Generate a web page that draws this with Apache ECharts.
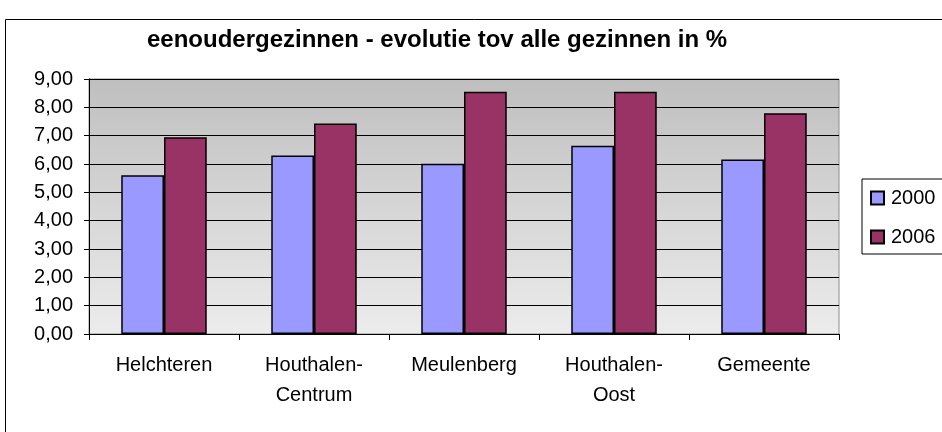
<!DOCTYPE html>
<html>
<head>
<meta charset="utf-8">
<script src="https://cdn.jsdelivr.net/npm/echarts@6/dist/echarts.min.js"></script>
<style>
	html, body { margin: 0; padding: 0; background: #fff; }
	#chart { width: 942px; height: 432px; }
</style>
</head>
<body>
<div id="chart"></div>
<script>
// categorieen en waarden
var categories = ['Helchteren', 'Houthalen-\nCentrum', 'Meulenberg', 'Houthalen-\nOost', 'Gemeente'];
var values2000 = [5.60, 6.30, 6.01, 6.64, 6.16];
var values2006 = [6.94, 7.43, 8.55, 8.55, 7.79];
var seriesNames = ['2000', '2006'];

var fontFamily = '"Liberation Sans", Arial, sans-serif';

var chart = echarts.init(document.getElementById('chart'));

var option = {
	backgroundColor: '#FFFFFF',
	animation: false,
	title: {
		text: 'eenoudergezinnen - evolutie tov alle gezinnen in %',
		left: 147,
		top: 28,
		padding: 0,
		textStyle: { fontFamily: fontFamily, fontSize: 24, fontWeight: 'bold', color: '#000' }
	},
	graphic: [
		{
			type: 'rect',
			shape: { x: 5.5, y: 19.5, width: 940, height: 430 },
			style: { fill: null, stroke: '#000', lineWidth: 1 },
			silent: true
		}
	],
	legend: {
		orient: 'vertical',
		left: 862,
		top: 179,
		padding: [9, 30, 7, 8],
		itemGap: 19,
		itemWidth: 13,
		itemHeight: 13,
		icon: 'rect',
		borderColor: '#000',
		borderWidth: 1,
		backgroundColor: '#fff',
		textStyle: { fontFamily: fontFamily, fontSize: 20, color: '#000', padding: [0, 0, 0, 2] },
		data: seriesNames
	},
	grid: {
		left: 89,
		right: 103,
		top: 79,
		bottom: 98,
		show: true,
		borderColor: '#8c8c8c',
		borderWidth: 1,
		backgroundColor: new echarts.graphic.LinearGradient(0, 0, 0, 1, [
			{ offset: 0, color: '#bfbfbf' },
			{ offset: 1, color: '#ececec' }
		])
	},
	xAxis: {
		type: 'category',
		data: categories,
		axisLine: { show: true, lineStyle: { color: '#000', width: 1 } },
		axisTick: { show: true, length: 6, lineStyle: { color: '#000' } },
		axisLabel: {
			fontFamily: fontFamily, fontSize: 20, color: '#000',
			lineHeight: 30, margin: 16, interval: 0
		},
		splitLine: { show: false }
	},
	yAxis: {
		type: 'value',
		min: 0,
		max: 9,
		interval: 1,
		axisLine: { show: true, lineStyle: { color: '#000', width: 1 } },
		axisTick: { show: true, length: 5, lineStyle: { color: '#000' } },
		axisLabel: {
			fontFamily: fontFamily, fontSize: 20, color: '#000', margin: 16,
			formatter: function(v) { return v.toFixed(2).replace('.', ','); }
		},
		splitLine: { show: true, lineStyle: { color: '#000', width: 1 } }
	},
	series: [
		{
			name: seriesNames[0],
			type: 'bar',
			data: values2000,
			barGap: '0%',
			barCategoryGap: '43%',
			itemStyle: { color: '#9999ff', borderColor: '#000', borderWidth: 1.5 }
		},
		{
			name: seriesNames[1],
			type: 'bar',
			data: values2006,
			itemStyle: { color: '#993366', borderColor: '#000', borderWidth: 1.5 }
		}
	]
};

chart.setOption(option);
</script>
</body>
</html>
